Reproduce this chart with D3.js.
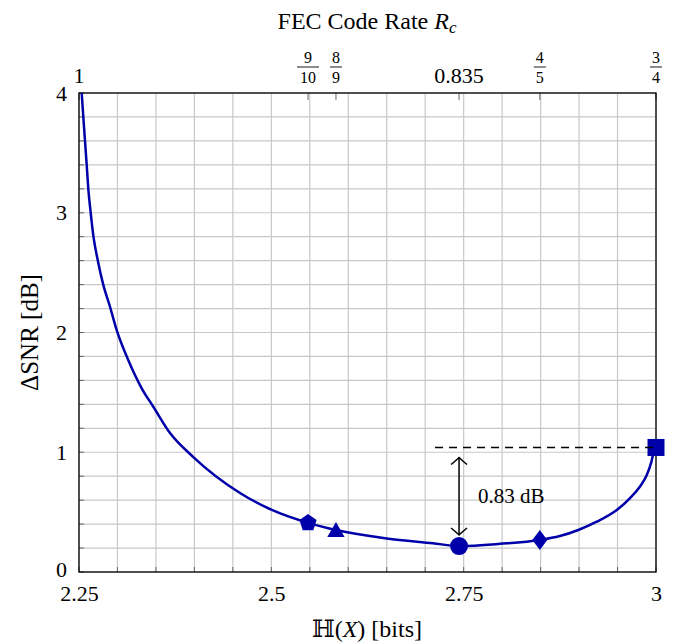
<!DOCTYPE html>
<html>
<head>
<meta charset="utf-8">
<script src="https://cdn.jsdelivr.net/npm/d3@7"></script>
<style>
  body { margin: 0; background: #fff; }
  text { font-family: "Liberation Serif", "DejaVu Serif", serif; fill: #000; }
</style>
</head>
<body>
<svg id="chart" width="675" height="643"></svg>
<script>
// curve: entropy H(X) vs SNR gap
var curveH   = [2.2535, 2.2556, 2.2578, 2.2600, 2.2621, 2.2652, 2.2688, 2.2745, 2.2815, 2.2903, 2.2990, 2.3140, 2.3315, 2.3466, 2.3683, 2.3986, 2.4593, 2.5000, 2.5477, 2.5840, 2.6500, 2.7100, 2.7440, 2.7970, 2.8490, 2.8750, 2.8990, 2.9230, 2.9490, 2.9660, 2.9790, 2.9880, 2.9940, 2.9970, 3.0000]
var curveSNR = [4.00,   3.80,   3.60,   3.40,   3.20,   3.00,   2.80,   2.60,   2.40,   2.215,  2.02,   1.77,   1.534,  1.38,   1.16,   0.96,   0.66,   0.52,   0.41,   0.35,   0.28,   0.24,   0.217,  0.235,  0.267,  0.30,   0.351,  0.42,   0.518,  0.615,  0.712,  0.81,   0.92,   1.00,   1.04]

// marked code rates
var markH     = [2.5477, 2.5840, 2.7440, 2.8490, 3.0000]
var markSNR   = [0.41,   0.35,   0.217,  0.267,  1.04]
var markShape = ["pentagon", "triangle", "circle", "diamond", "square"]

// top axis (code rate)
var rateH     = [2.25, 2.5477, 2.5840, 2.7440, 2.8490, 3.0000]
var rateNum   = ["1", "9", "8", "0.835", "4", "3"]
var rateDen   = [null, "10", "9", null, "5", "4"]

// bottom / left ticks
var xTicks = [2.25, 2.5, 2.75, 3]
var yTicks = [0, 1, 2, 3, 4]

var gapLabel = "0.83 dB"
var gapTop = 1.04
var dashStart = 2.7128

var svg = d3.select("#chart")
var pl = 79, pr = 656, pt = 93, pb = 572
var blue = "#0000aa"

var x = d3.scaleLinear().domain([2.25, 3]).range([pl, pr])
var y = d3.scaleLinear().domain([0, 4]).range([pb, pt])

// grid
var gx = d3.range(2.25, 3.0001, 0.05)
var gy = d3.range(0, 4.0001, 0.2)
svg.append("g").selectAll("line").data(gx).join("line")
  .attr("x1", d => x(d)).attr("x2", d => x(d))
  .attr("y1", pt).attr("y2", pb)
  .attr("stroke", "#c8c8c8").attr("stroke-width", 1.2)
svg.append("g").selectAll("line").data(gy).join("line")
  .attr("y1", d => y(d)).attr("y2", d => y(d))
  .attr("x1", pl).attr("x2", pr)
  .attr("stroke", "#c8c8c8").attr("stroke-width", 1.2)

// minor ticks inside the frame
svg.append("g").selectAll("line").data(gx).join("line")
  .attr("x1", d => x(d)).attr("x2", d => x(d))
  .attr("y1", pb).attr("y2", pb - 5)
  .attr("stroke", "#666").attr("stroke-width", 1)
svg.append("g").selectAll("line").data(gy).join("line")
  .attr("y1", d => y(d)).attr("y2", d => y(d))
  .attr("x1", pl).attr("x2", pl + 5)
  .attr("stroke", "#666").attr("stroke-width", 1)
svg.append("g").selectAll("line").data(rateH).join("line")
  .attr("x1", d => x(d)).attr("x2", d => x(d))
  .attr("y1", pt).attr("y2", pt + 7)
  .attr("stroke", "#666").attr("stroke-width", 1)

// frame
svg.append("rect")
  .attr("x", pl).attr("y", pt)
  .attr("width", pr - pl).attr("height", pb - pt)
  .attr("fill", "none").attr("stroke", "#000").attr("stroke-width", 1.3)

// bottom axis labels
var xAxis = d3.axisBottom(x).tickValues(xTicks).tickSize(0).tickPadding(13)
  .tickFormat(d => d3.format("")(d))
var gxa = svg.append("g").attr("transform", "translate(0," + pb + ")").call(xAxis)
gxa.select(".domain").remove()
gxa.selectAll("text").style("font-size", "22px").attr("dy", "0.71em")

// left axis labels
var yAxis = d3.axisLeft(y).tickValues(yTicks).tickSize(0).tickPadding(12)
  .tickFormat(d3.format("d"))
var gya = svg.append("g").attr("transform", "translate(" + pl + ",0)").call(yAxis)
gya.select(".domain").remove()
gya.selectAll("text").style("font-size", "22px").attr("dy", d => d == 0 ? "0.22em" : "0.32em")

// top axis labels: code rates
var topG = svg.append("g")
rateH.forEach(function(h, i) {
  var cx = x(h)
  if (rateDen[i] == null) {
    topG.append("text").attr("x", cx).attr("y", pt - 10)
      .attr("text-anchor", "middle").style("font-size", "22px").text(rateNum[i])
  } else {
    var half = rateDen[i].length > 1 ? 11 : 6
    topG.append("text").attr("x", cx).attr("y", pt - 30)
      .attr("text-anchor", "middle").style("font-size", "16px").text(rateNum[i])
    topG.append("line").attr("x1", cx - half).attr("x2", cx + half)
      .attr("y1", pt - 26).attr("y2", pt - 26).attr("stroke", "#000").attr("stroke-width", 0.9)
    topG.append("text").attr("x", cx).attr("y", pt - 10)
      .attr("text-anchor", "middle").style("font-size", "16px").text(rateDen[i])
  }
})

// titles
var title = svg.append("text").attr("x", 367).attr("y", 29)
  .attr("text-anchor", "middle").style("font-size", "24px")
title.append("tspan").text("FEC Code Rate ")
title.append("tspan").style("font-style", "italic").text("R")
title.append("tspan").style("font-style", "italic").style("font-size", "17px").attr("dy", 4).text("c")

var xl = svg.append("text").attr("x", 367).attr("y", 637)
  .attr("text-anchor", "middle").style("font-size", "24px")
xl.append("tspan").text("ℍ(")
xl.append("tspan").style("font-style", "italic").text("X")
xl.append("tspan").text(")  [bits]")

svg.append("text")
  .attr("transform", "translate(38," + (pt + pb) / 2 + ") rotate(-90)")
  .attr("text-anchor", "middle").style("font-size", "25px")
  .text("ΔSNR [dB]")

// curve
var pts = curveH.map((h, i) => [h, curveSNR[i]])
var line = d3.line().x(d => x(d[0])).y(d => y(d[1])).curve(d3.curveMonotoneX)
svg.append("path").datum(pts)
  .attr("d", line)
  .attr("fill", "none").attr("stroke", blue).attr("stroke-width", 2.5)
  .attr("stroke-linejoin", "round")

// markers
function shapePath(kind) {
  var p = d3.path()
  if (kind == "circle") { p.arc(0, 0, 9, 0, 2 * Math.PI); return p.toString() }
  if (kind == "square") { p.rect(-8.5, -8.5, 17, 17); return p.toString() }
  if (kind == "diamond") {
    p.moveTo(0, -10); p.lineTo(7.5, 0); p.lineTo(0, 10); p.lineTo(-7.5, 0); p.closePath()
    return p.toString()
  }
  var n = kind == "triangle" ? 3 : 5
  var r = kind == "triangle" ? 10 : 9
  for (var k = 0; k < n; k++) {
    var a = -Math.PI / 2 + k * 2 * Math.PI / n
    if (k == 0) p.moveTo(r * Math.cos(a), r * Math.sin(a))
    else p.lineTo(r * Math.cos(a), r * Math.sin(a))
  }
  p.closePath()
  return p.toString()
}
svg.append("g").selectAll("path").data(markH).join("path")
  .attr("transform", (d, i) => "translate(" + x(d) + "," + (y(markSNR[i]) + (markShape[i] == "triangle" ? 2 : 0)) + ")")
  .attr("d", (d, i) => shapePath(markShape[i]))
  .attr("fill", blue)

// dashed reference line
var minI = markSNR.indexOf(d3.min(markSNR))
svg.append("line")
  .attr("x1", x(dashStart)).attr("x2", x(3))
  .attr("y1", y(gapTop)).attr("y2", y(gapTop))
  .attr("stroke", "#000").attr("stroke-width", 1.5).attr("stroke-dasharray", "8,6")

// double arrow
var ax = x(markH[minI])
var ay1 = y(gapTop) + 10, ay2 = y(markSNR[minI]) - 11
svg.append("line").attr("x1", ax).attr("x2", ax).attr("y1", ay1).attr("y2", ay2)
  .attr("stroke", "#000").attr("stroke-width", 1.5)
svg.append("path")
  .attr("d", "M" + (ax - 8) + "," + (ay1 + 7) + " Q" + (ax - 2) + "," + (ay1 + 2) + " " + ax + "," + ay1 +
             " Q" + (ax + 2) + "," + (ay1 + 2) + " " + (ax + 8) + "," + (ay1 + 7))
  .attr("fill", "none").attr("stroke", "#000").attr("stroke-width", 1.5)
svg.append("path")
  .attr("d", "M" + (ax - 8) + "," + (ay2 - 7) + " Q" + (ax - 2) + "," + (ay2 - 2) + " " + ax + "," + ay2 +
             " Q" + (ax + 2) + "," + (ay2 - 2) + " " + (ax + 8) + "," + (ay2 - 7))
  .attr("fill", "none").attr("stroke", "#000").attr("stroke-width", 1.5)

svg.append("text").attr("x", ax + 19).attr("y", (ay1 + ay2) / 2 + 7)
  .style("font-size", "21px").text(gapLabel)
</script>
</body>
</html>
